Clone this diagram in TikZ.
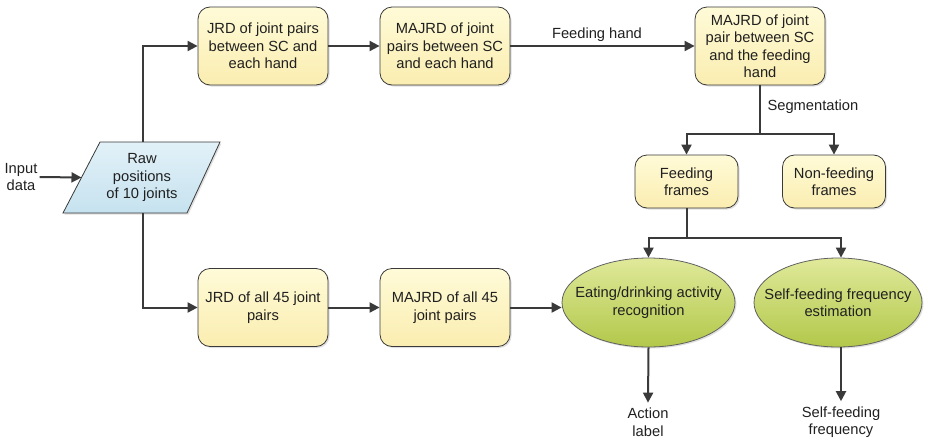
\documentclass[tikz,border=0pt]{standalone}
\usepackage{fontspec}
\setmainfont{Liberation Sans}
\usetikzlibrary{arrows.meta,shapes.geometric,shadows}
\definecolor{linecol}{HTML}{3A3A3A}
\definecolor{txtcol}{HTML}{202020}
\definecolor{boxtop}{HTML}{FFFBD8}
\definecolor{boxbot}{HTML}{FAEDB0}
\definecolor{elltop}{HTML}{E0E99A}
\definecolor{ellbot}{HTML}{B2C84A}
\definecolor{partop}{HTML}{E2F1F8}
\definecolor{parbot}{HTML}{C6E2EF}
\tikzset{
  txt/.style={font=\fontsize{14.7}{17.5}\selectfont, align=center, text=txtcol},
  stepbox/.style={txt, draw=linecol, line width=0.8pt, rounded corners=12pt,
    top color=boxtop, bottom color=boxbot, minimum width=130pt, minimum height=78pt,
    inner sep=2pt, drop shadow={shadow xshift=1.5pt, shadow yshift=-1.5pt, opacity=0.25}},
  smallbox/.style={stepbox, minimum width=103pt, minimum height=53pt},
  ell/.style={txt, ellipse, draw=linecol!80, line width=0.8pt, top color=elltop, bottom color=ellbot,
    minimum width=173pt, minimum height=89pt, inner xsep=-20pt, inner ysep=0pt,
    drop shadow={shadow xshift=1.5pt, shadow yshift=-1.5pt, opacity=0.25}},
  conn/.style={line width=2pt, draw=linecol},
  arr/.style={conn, -{Triangle[length=10pt,width=10pt]}},
}
\begin{document}
\begin{tikzpicture}[x=1pt,y=-1pt]
\useasboundingbox (0,0) rectangle (928,442);
% parallelogram
\draw[draw=linecol, line width=0.8pt, top color=partop, bottom color=parbot,
      drop shadow={shadow xshift=1.5pt, shadow yshift=-1.5pt, opacity=0.25}]
  (100,142) -- (220,142) -- (187,213) -- (63,213) -- cycle;
\node[txt] (raw) at (142,177.5) {Raw\\positions\\of 10 joints};
\coordinate (rawT) at (143,142);
\coordinate (rawB) at (143,213);
\coordinate (rawL) at (81.5,177.5);
\node[txt, inner sep=2pt] (inp) at (21,177) {Input\\data};

\node[stepbox] (jrd1) at (263,46) {JRD of joint pairs\\between SC and\\each hand};
\node[stepbox] (mj1) at (445,46) {MAJRD of joint\\pairs between SC\\and each hand};
\node[stepbox] (mjf) at (760,46) {MAJRD of joint\\pair between SC\\and the feeding\\hand};
\node[smallbox] (ff) at (686.5,181.5) {Feeding\\frames};
\node[smallbox] (nf) at (834,181.5) {Non-feeding\\frames};
\node[stepbox] (jrd2) at (263,307.5) {JRD of all 45 joint\\pairs};
\node[stepbox] (mj2) at (445,307.5) {MAJRD of all 45\\joint pairs};
\node[ell] (e1) at (648.5,302.5) {Eating/drinking activity\\recognition};
\node[ell, minimum width=168pt] (e2) at (838,302.5) {Self-feeding frequency\\estimation};
\node[txt, inner sep=5pt] (act) at (648,422) {Action\\label};
\node[txt, inner sep=5pt] (sff) at (841,422) {Self-feeding\\frequency};

\draw[arr] (inp.east) -- (rawL);
\draw[arr] (rawT) |- (jrd1.west);
\draw[arr] (rawB) |- (jrd2.west);
\draw[arr] (jrd1) -- (mj1);
\draw[arr] (mj1) -- node[txt, above, pos=0.47, inner sep=3pt] (fh) {Feeding hand} (mjf);
\draw[conn] (mjf.south) -- (760,134) coordinate (seg);
\node[txt, anchor=west] (segl) at (764,107) {Segmentation};
\draw[arr] (seg) -| (ff.north);
\draw[arr] (seg) -| (nf.north);
\draw[conn] (ff.south) -- (686.5,238) coordinate (j2);
\draw[arr] (j2) -| (e1.north);
\draw[arr] (j2) -| (sff.north |- e2.north);
\draw[arr] (jrd2) -- (mj2);
\draw[arr] (mj2.east) -- (mj2.east -| e1.west);
\draw[arr] (e1.south) -- (act.north);
\draw[arr] (sff.north |- e2.south) -- (sff.north);
\end{tikzpicture}
\end{document}
